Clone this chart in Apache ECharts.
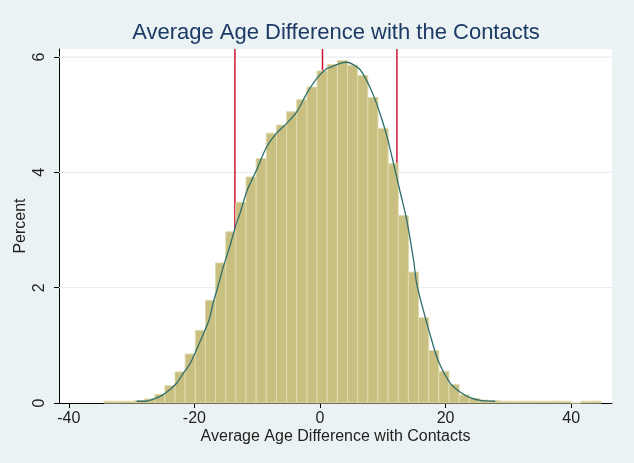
<!DOCTYPE html>
<html>
<head>
<meta charset="utf-8">
<script src="https://cdn.jsdelivr.net/npm/echarts@6/dist/echarts.min.js"></script>
<style>
html,body{margin:0;padding:0;background:#eaf2f3;}
#chart{width:634px;height:463px;}
</style>
</head>
<body>
<div id="chart"></div>
<script>
// ---- data ----
const titleText = 'Average Age Difference with the Contacts';
const xTitle = 'Average Age Difference with Contacts';
const yTitle = 'Percent';
const xTicks = [-40, -20, 0, 20, 40];
const yTicks = [0, 2, 4, 6];
const binStart = -34.4;
const binWidth = 1.616;
const binHeights = [
  0.03, 0.03, 0.03, 0.04, 0.07, 0.15, 0.30, 0.54, 0.85, 1.26,
  1.78, 2.43, 2.97, 3.48, 3.92, 4.24, 4.68, 4.82, 5.05, 5.26,
  5.48, 5.76, 5.87, 5.94, 5.86, 5.68, 5.30, 4.76, 4.15, 3.25,
  2.27, 1.48, 0.91, 0.55, 0.32, 0.14, 0.08, 0.05, 0.04, 0.03,
  0.03, 0.03, 0.03, 0.03, 0.03, 0.03, 0.00, 0.03, 0.03
];
const curveX = [-29.2, -27.9, -26.3, -24.95, -23.9, -22.8, -21.8, -20.7, -19.6, -18.8,
  -17.7, -17.0, -16.2, -15.4, -14.3, -13.3, -12.7, -11.6, -10.1, -8.5,
  -6.9, -5.3, -3.7, -2.1, -0.5, 1.07, 1.6, 3.2, 4.25, 5.3,
  6.4, 7.4, 8.5, 9.55, 10.6, 11.7, 12.7, 13.8, 14.9, 15.4,
  16.45, 17.5, 18.8, 20.7, 22.3, 23.9, 25.5, 27.9];
const curveY = [0.03, 0.03, 0.076, 0.146, 0.233, 0.347, 0.51, 0.68, 0.94, 1.14,
  1.43, 1.74, 2.04, 2.36, 2.74, 3.12, 3.3, 3.69, 4.04, 4.44,
  4.68, 4.85, 5.05, 5.37, 5.63, 5.80, 5.82, 5.89, 5.91, 5.87,
  5.78, 5.60, 5.34, 5.02, 4.65, 4.16, 3.69, 3.18, 2.48, 2.07,
  1.61, 1.2, 0.74, 0.35, 0.19, 0.092, 0.045, 0.03];
const refLines = [-13.55, 0.4, 12.25];
const gridLevels = [2, 4, 6];

// ---- build ----
const X_MIN = -41.56, X_MAX = 46.5, Y_MIN = 0, Y_MAX = 6.14;
const histData = binHeights.map((h, i) => [binStart + i * binWidth, binStart + (i + 1) * binWidth, h]);
const curveData = curveX.map((x, i) => [x, curveY[i]]);

const FONT = '"Liberation Sans", Arial, sans-serif';
const series = [];
gridLevels.forEach(v => series.push({
  type: 'line', z: 1, silent: true, symbol: 'none',
  data: [[X_MIN, v], [X_MAX, v]],
  lineStyle: {color: '#e6eef1', width: 1.2}
}));
refLines.forEach(v => series.push({
  type: 'line', z: 2, silent: true, symbol: 'none',
  data: [[v, Y_MIN], [v, Y_MAX]],
  lineStyle: {color: '#cc1636', width: 1.5}
}));
series.push({
  type: 'custom', z: 3, silent: true,
  data: histData,
  encode: {x: [0, 1], y: 2},
  renderItem: function (params, api) {
    const p0 = api.coord([api.value(0), api.value(2)]);
    const p1 = api.coord([api.value(1), 0]);
    return {
      type: 'rect',
      shape: {x: p0[0], y: p0[1], width: p1[0] - p0[0], height: p1[1] - p0[1]},
      style: {fill: '#c8bf80', stroke: '#e0dbae', lineWidth: 1}
    };
  }
});
series.push({
  type: 'line', z: 4, silent: true,
  data: curveData, smooth: 0.3, symbol: 'none',
  lineStyle: {color: '#2f6e6c', width: 1.3}
});

const chart = echarts.init(document.getElementById('chart'), null, {renderer: 'canvas'});
chart.setOption({
  backgroundColor: '#eaf2f3',
  animation: false,
  graphic: [{
    type: 'text', x: 336, y: 33,
    style: {text: titleText, fill: '#1d3a66', font: '22px ' + FONT, textAlign: 'center', textVerticalAlign: 'middle'}
  }],
  grid: {left: 59, right: 22, top: 49, bottom: 60, show: true, backgroundColor: '#ffffff', borderWidth: 0},
  xAxis: {
    type: 'value', min: X_MIN, max: X_MAX,
    name: xTitle, nameLocation: 'middle', nameGap: 26, nameMoveOverlap: false,
    nameTextStyle: {fontFamily: FONT, fontSize: 16, color: '#222'},
    axisLine: {show: true, onZero: false, lineStyle: {color: '#000', width: 1}},
    axisTick: {show: true, length: 5, customValues: xTicks, lineStyle: {color: '#000'}},
    axisLabel: {customValues: xTicks, fontFamily: FONT, fontSize: 16, color: '#222', margin: 8},
    splitLine: {show: false}
  },
  yAxis: {
    type: 'value', min: Y_MIN, max: Y_MAX,
    name: yTitle, nameLocation: 'middle', nameGap: 30, nameRotate: 90, nameMoveOverlap: false,
    nameTextStyle: {fontFamily: FONT, fontSize: 16, color: '#222'},
    axisLine: {show: true, onZero: false, lineStyle: {color: '#000', width: 1}},
    axisTick: {show: true, length: 5, customValues: yTicks, lineStyle: {color: '#000'}},
    axisLabel: {customValues: yTicks, rotate: 90, fontFamily: FONT, fontSize: 16, color: '#222', margin: 11},
    splitLine: {show: false}
  },
  series: series
});
</script>
</body>
</html>
